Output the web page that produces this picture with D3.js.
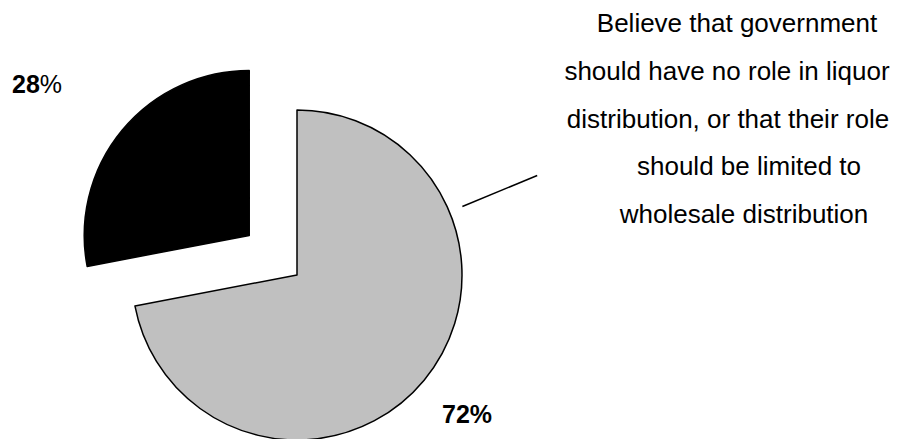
<!DOCTYPE html>
<html lang="en">
<head>
<meta charset="utf-8">
<script src="https://d3js.org/d3.v7.min.js"></script>
<style>
  body { margin: 0; background: #fff; }
  text { font-family: "Liberation Sans", Arial, sans-serif; fill: #000; }
</style>
</head>
<body>
<svg width="897" height="439"></svg>
<script>
// chart values
var categories = ["Government no role / wholesale only", "Other"];
var values = [72, 28];
var colors = ["#c0c0c0", "#000000"];
var labelLines = [
  "Believe that government",
  "should have no role in liquor",
  "distribution, or that their role",
  "should be limited to",
  "wholesale distribution"
];

var svg = d3.select("svg");
var cx = 297, cy = 275, r = 165;
var explode = 62;

var pie = d3.pie().sort(null).value(function(d) { return d; });
var arc = d3.arc().innerRadius(0).outerRadius(r);
var arcs = pie(values);

var g = svg.append("g").attr("transform", "translate(" + cx + "," + cy + ")");

g.selectAll("path")
  .data(arcs)
  .enter().append("path")
  .attr("d", arc)
  .attr("fill", function(d, i) { return colors[i]; })
  .attr("stroke", "#000")
  .attr("stroke-width", 1.5)
  .attr("stroke-linejoin", "round")
  .attr("transform", function(d, i) {
    if (i === 0) return null;
    var a = (d.startAngle + d.endAngle) / 2;
    return "translate(" + (Math.sin(a) * explode) + "," + (-Math.cos(a) * explode) + ")";
  });

// leader line for the big slice
var la = 67.5 * Math.PI / 180;
g.append("line")
  .attr("x1", Math.sin(la) * (r + 14)).attr("y1", -Math.cos(la) * (r + 14))
  .attr("x2", Math.sin(la) * (r + 95)).attr("y2", -Math.cos(la) * (r + 95))
  .attr("stroke", "#000").attr("stroke-width", 1.5);

// percent labels
var p1 = svg.append("text").attr("x", 12).attr("y", 93).style("font-size", "25px");
p1.append("tspan").style("font-weight", "bold").text(values[1]);
p1.append("tspan").text("%");

svg.append("text").attr("x", 442).attr("y", 423)
  .style("font-size", "25px").style("font-weight", "bold")
  .text(values[0] + "%");

// category description
var lineCx = [737, 727, 728, 749, 744];
svg.append("g").selectAll("text")
  .data(labelLines)
  .enter().append("text")
  .attr("x", function(d, i) { return lineCx[i]; })
  .attr("y", function(d, i) { return 32 + i * 47.75; })
  .attr("text-anchor", "middle")
  .style("font-size", "26px")
  .text(function(d) { return d; });
</script>
</body>
</html>
